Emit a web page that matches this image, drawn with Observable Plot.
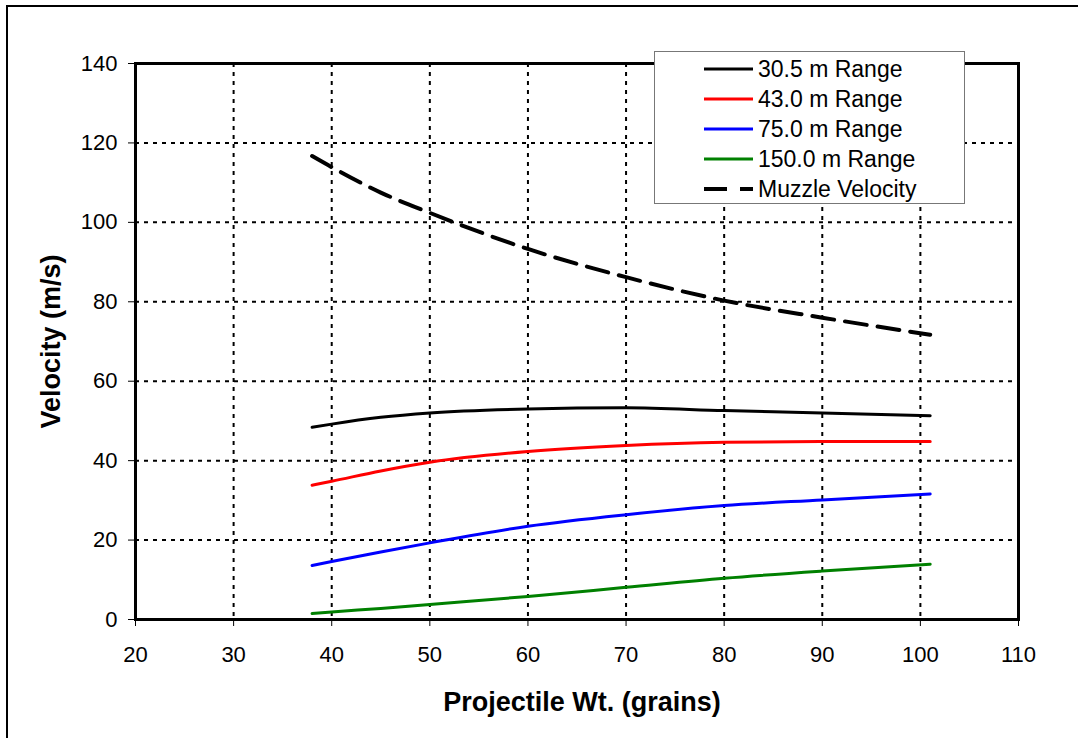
<!DOCTYPE html>
<html>
<head>
<meta charset="utf-8">
<script src="https://cdn.jsdelivr.net/npm/d3@7"></script>
<script src="https://cdn.jsdelivr.net/npm/@observablehq/plot@0.6"></script>
<style>
  html, body { margin: 0; padding: 0; background: #fff; overflow: hidden; }
  #wrap { position: relative; width: 1078px; height: 738px; overflow: hidden; font-family: "Liberation Sans", Arial, sans-serif; }
  #border { position: absolute; left: 6px; top: 5px; width: 1200px; height: 900px; border: 2px solid #000; pointer-events: none; }
  #legend { position: absolute; left: 654px; top: 51px; width: 311px; height: 153px; box-sizing: border-box;
            border: 1px solid #777; background: #fff; padding-top: 2px; }
  .row { display: flex; align-items: center; height: 30px; padding-left: 49px; }
  .row svg { display: block; margin-right: 5px; }
  .row span { font-size: 23px; color: #000; line-height: 30px; white-space: nowrap; }
</style>
</head>
<body>
<div id="wrap">
  <div id="chart"></div>
  <div id="border"></div>
  <div id="legend"></div>
</div>
<script>
// ---- Data ----
const weights = [38, 40, 45, 50, 60, 70, 80, 90, 101];
const range30 = [48.4, 49.2, 50.9, 52.0, 53.0, 53.3, 52.6, 52.0, 51.3];
const range43 = [33.8, 34.8, 37.4, 39.6, 42.3, 43.8, 44.6, 44.8, 44.8];
const range75 = [13.6, 14.6, 17.0, 19.3, 23.5, 26.4, 28.7, 30.1, 31.6];
const range150 = [1.5, 1.9, 2.8, 3.8, 5.8, 8.1, 10.4, 12.2, 13.9];
const muzzle = [116.7, 113.9, 107.5, 102.4, 93.3, 86.2, 80.3, 76.0, 71.7];

const seriesNames = ["30.5 m Range", "43.0 m Range", "75.0 m Range", "150.0 m Range", "Muzzle Velocity"];
const seriesValues = [range30, range43, range75, range150, muzzle];
const xTicks = [20, 30, 40, 50, 60, 70, 80, 90, 100, 110];
const yTicks = [0, 20, 40, 60, 80, 100, 120, 140];
const xLabel = "Projectile Wt. (grains)";
const yLabel = "Velocity (m/s)";

// ---- Styles ----
const styles = [
  {stroke: "#000000", strokeWidth: 3, dash: null},
  {stroke: "#ff0000", strokeWidth: 3, dash: null},
  {stroke: "#0000ff", strokeWidth: 3, dash: null},
  {stroke: "#008000", strokeWidth: 3, dash: null},
  {stroke: "#000000", strokeWidth: 4, dash: "22,11"}
];

const rows = seriesNames.flatMap((name, i) =>
  weights.map((w, j) => ({series: name, w, v: seriesValues[i][j]})));

const gridStyle = {stroke: "#000", strokeOpacity: 1, strokeWidth: 2, strokeDasharray: "4,5"};

const lineMarks = seriesNames.map((name, i) =>
  Plot.line(rows.filter(d => d.series === name), {
    x: "w", y: "v",
    stroke: styles[i].stroke,
    strokeWidth: styles[i].strokeWidth,
    strokeDasharray: styles[i].dash,
    curve: "monotone-x"
  }));

const chart = Plot.plot({
  width: 1078,
  height: 738,
  marginLeft: 135,
  marginRight: 60,
  marginTop: 63,
  marginBottom: 119,
  style: {fontFamily: "'Liberation Sans', Arial, sans-serif", fontSize: "22px", color: "#000", background: "transparent", overflow: "visible"},
  x: {domain: [20, 110]},
  y: {domain: [0, 140]},
  marks: [
    Plot.gridX(xTicks, gridStyle),
    Plot.gridY(yTicks, gridStyle),
    ...lineMarks,
    Plot.frame({stroke: "#000", strokeWidth: 3}),
    Plot.axisX(xTicks, {tickSize: 7, tickPadding: 20, label: null, fontSize: 22, stroke: "#000"}),
    Plot.axisY(yTicks, {tickSize: 7, tickPadding: 11, label: null, fontSize: 22, stroke: "#000"}),
    Plot.text([xLabel], {frameAnchor: "bottom", text: d => d, textAnchor: "middle", dx: 5, dy: 83, fontSize: 27, fontWeight: "bold", lineAnchor: "middle", fill: "#000"}),
    Plot.text([yLabel], {frameAnchor: "left", text: d => d, textAnchor: "middle", rotate: -90, dx: -84, dy: 0, fontSize: 27, fontWeight: "bold", lineAnchor: "middle", fill: "#000"})
  ]
});
document.getElementById("chart").appendChild(chart);

// ---- Legend ----
const legend = d3.select("#legend");
seriesNames.forEach((name, i) => {
  const row = legend.append("div").attr("class", "row");
  const svg = row.append("svg").attr("width", 49).attr("height", 10);
  svg.append("line")
    .attr("x1", 0).attr("x2", 49).attr("y1", 5).attr("y2", 5)
    .attr("stroke", styles[i].stroke)
    .attr("stroke-width", styles[i].strokeWidth)
    .attr("stroke-dasharray", styles[i].dash ? "23,13" : null);
  row.append("span").text(name);
});
</script>
</body>
</html>
